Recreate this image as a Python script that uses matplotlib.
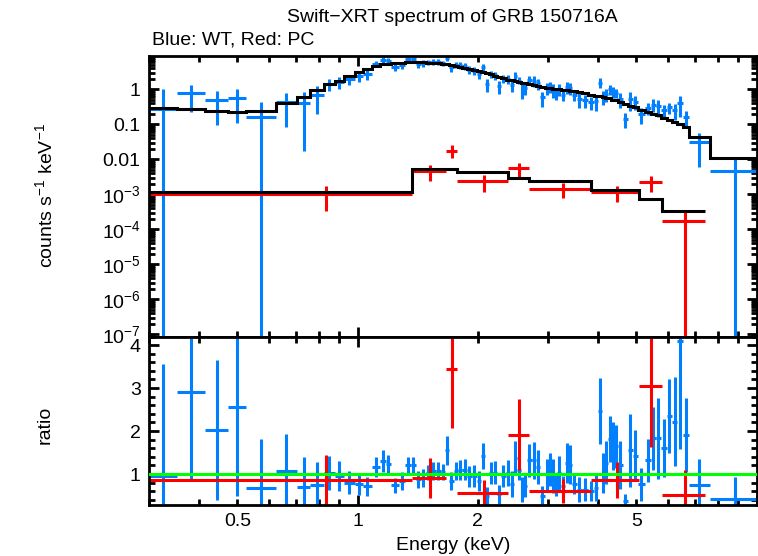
import numpy as np
import matplotlib.pyplot as plt
from matplotlib.ticker import LogLocator, MultipleLocator, NullFormatter

plt.rcParams['font.family'] = ['Liberation Sans', 'DejaVu Sans']
plt.rcParams['mathtext.fontset'] = 'custom'
plt.rcParams['mathtext.rm'] = 'Liberation Sans'
plt.rcParams['mathtext.it'] = 'Liberation Sans:italic'
plt.rcParams['mathtext.bf'] = 'Liberation Sans:bold'

# WT mode spectrum (blue): channel bin edges in keV, data/model ratio, its error, model counts
wt_edges = [0.30, 0.352, 0.414, 0.472, 0.524, 0.623, 0.703, 0.762, 0.822, 0.876,
            0.922, 0.983, 1.029, 1.084, 1.135, 1.175, 1.210, 1.267, 1.312, 1.358,
            1.398, 1.438, 1.481, 1.524, 1.569, 1.614, 1.652, 1.696, 1.740, 1.781,
            1.828, 1.881, 1.931, 1.987, 2.034, 2.087, 2.136, 2.186, 2.237, 2.289,
            2.349, 2.411, 2.460, 2.510, 2.562, 2.606, 2.660, 2.730, 2.801, 2.867,
            2.942, 3.011, 3.064, 3.112, 3.166, 3.227, 3.302, 3.379, 3.448, 3.539,
            3.643, 3.771, 3.904, 4.006, 4.088, 4.160, 4.240, 4.324, 4.407, 4.491,
            4.615, 4.750, 4.903, 5.032, 5.240, 5.424, 5.583, 5.747, 5.949, 6.141,
            6.321, 6.524, 6.766, 7.625, 10.0]
wt_ratio = [0.95, 2.9, 2.02, 2.56, 0.67, 1.07, 0.71, 0.74, 1.03, 0.95,
            0.8, 0.76, 0.72, 1.16, 1.3, 1.24, 0.74, 0.84, 1.2, 1.2,
            0.88, 0.91, 1.03, 1.07, 1.07, 1.05, 1.55, 0.84, 1.07, 1.1,
            1.1, 0.95, 0.95, 0.84, 1.42, 0.49, 1.03, 1.03, 0.53, 0.95,
            1.03, 0.76, 1.38, 1.1, 0.64, 0.72, 1.32, 1.32, 1.17, 0.49,
            0.99, 1.11, 0.95, 0.76, 1.03, 0.72, 1.26, 1.22, 0.76, 0.64,
            0.64, 0.6, 0.68, 2.47, 1.03, 1.26, 1.81, 1.65, 1.65, 1.22,
            0.37, 1.55, 1.43, 0.76, 1.32, 1.83, 1.83, 1.6, 2.35, 2.22,
            4.09, 1.91, 0.74, 0.43]
wt_ratio_err = [2.6, 2.05, 1.63, 2.06, 1.14, 0.86, 0.68, 0.53, 0.4, 0.35,
                0.27, 0.25, 0.22, 0.23, 0.26, 0.21, 0.17, 0.2, 0.2, 0.2,
                0.2, 0.2, 0.17, 0.2, 0.2, 0.18, 0.34, 0.2, 0.22, 0.23,
                0.24, 0.24, 0.25, 0.23, 0.31, 0.2, 0.25, 0.27, 0.22, 0.26,
                0.3, 0.3, 0.38, 0.25, 0.3, 0.26, 0.38, 0.43, 0.4, 0.23,
                0.37, 0.38, 0.4, 0.27, 0.39, 0.23, 0.46, 0.46, 0.23, 0.29,
                0.26, 0.23, 0.31, 0.77, 0.46, 0.5, 0.54, 0.56, 0.5, 0.56,
                0.17, 0.85, 0.6, 0.38, 0.5, 0.74, 0.94, 0.68, 0.86, 1.03,
                2.5, 0.87, 0.6, 0.5]
wt_model = [0.286, 0.268, 0.24, 0.224, 0.24, 0.398, 0.59, 0.955, 1.39, 1.73,
            2.45, 3.12, 3.8, 4.6, 5.3, 5.3, 5.75, 5.75, 6.15, 6.15,
            6.15, 6.1, 5.75, 5.75, 5.6, 5.4, 5.2, 5.0, 4.7, 4.4,
            4.1, 3.85, 3.55, 3.3, 3.1, 2.85, 2.65, 2.45, 2.3, 2.15,
            1.9, 1.8, 1.72, 1.62, 1.56, 1.5, 1.43, 1.35, 1.27, 1.2,
            1.12, 1.08, 1.05, 1.03, 1.0, 0.97, 0.93, 0.9, 0.88, 0.82,
            0.77, 0.71, 0.66, 0.63, 0.61, 0.58, 0.55, 0.51, 0.48, 0.44,
            0.39, 0.34, 0.31, 0.26, 0.22, 0.2, 0.18, 0.155, 0.13, 0.115,
            0.1, 0.085, 0.0426, 0.0107]

# PC mode spectrum (red)
pc_edges = [0.3, 1.37, 1.67, 1.77, 2.38, 2.69, 3.85, 5.07, 5.80, 7.41]
pc_ratio = [0.86, 0.91, 3.44, 0.565, 1.92, 0.6, 0.86, 3.06, 0.52]
pc_ratio_err = [0.58, 0.46, 1.37, 0.29, 0.82, 0.28, 0.42, 1.42, 0.58]
pc_model = [1.19e-3, 5.18e-3, 5.18e-3, 4.25e-3, 2.87e-3, 2.4e-3, 1.33e-3, 7.2e-4, 3.33e-4]

BLUE = '#0080ff'
RED = '#ff0000'
GREEN = '#00ff00'
LW = 2.2
FS = 14


def bin_centres(edges):
    e = np.asarray(edges)
    return (e[:-1] + e[1:]) / 2, (e[1:] - e[:-1]) / 2


W, H = 758, 556
fig = plt.figure(figsize=(W / 100, H / 100), dpi=100)
left, right = 149, 756.5
top, mid, bottom = 56, 336.5, 505
ax1 = fig.add_axes([left / W, 1 - mid / H, (right - left) / W, (mid - top) / H])
ax2 = fig.add_axes([left / W, 1 - bottom / H, (right - left) / W, (bottom - mid) / H])

for edges, ratio, rerr, model, col, z in [
        (wt_edges, wt_ratio, wt_ratio_err, wt_model, BLUE, 2),
        (pc_edges, pc_ratio, pc_ratio_err, pc_model, RED, 2.5)]:
    xc, xw = bin_centres(edges)
    ratio, rerr, model = np.array(ratio), np.array(rerr), np.array(model)
    ax1.errorbar(xc, ratio * model, yerr=rerr * model, xerr=xw, fmt='none',
                 ecolor=col, elinewidth=LW, capsize=0, zorder=z)
    ax1.stairs(model, edges, baseline=None, color='k', lw=LW, zorder=3)
    ax2.errorbar(xc, ratio, yerr=rerr, xerr=xw, fmt='none',
                 ecolor=col, elinewidth=LW, capsize=0, zorder=z)

ax2.axhline(1.0, color=GREEN, lw=LW, zorder=4)

minor_x = [0.3, 0.4, 0.5, 0.6, 0.7, 0.8, 0.9, 2, 3, 4, 5, 6, 7, 8, 9]
minor_lbl = ['', '', '0.5', '', '', '', '', '2', '', '', '5', '', '', '', '']
for ax in (ax1, ax2):
    ax.set_xscale('log')
    ax.set_xlim(0.3, 10)
    ax.set_xticks([1, 10], ['1', ''])
    ax.set_xticks(minor_x, minor_lbl, minor=True)
    ax.tick_params(which='both', direction='in', top=True, right=True,
                   width=2, labelsize=FS, pad=6)
    ax.tick_params(which='major', length=7.5)
    ax.tick_params(which='minor', length=4.5)
    for s in ax.spines.values():
        s.set_linewidth(2)

ax1.tick_params(which='both', labelbottom=False)

ax1.set_yscale('log')
ax1.set_ylim(8.65e-8, 8.94)
ax1.set_yticks([1, 0.1, 0.01, 1e-3, 1e-4, 1e-5, 1e-6, 1e-7],
               ['1', '0.1', '0.01', '$10^{-3}$', '$10^{-4}$', '$10^{-5}$',
                '$10^{-6}$', '$10^{-7}$'])
ax1.yaxis.set_minor_locator(LogLocator(base=10, subs=range(2, 10), numticks=20))
ax1.yaxis.set_minor_formatter(NullFormatter())

ax2.set_ylim(0.28, 4.2)
ax2.set_yticks([1, 2, 3, 4])
ax2.yaxis.set_minor_locator(MultipleLocator(0.2))

fig.text((left + right) / 2 / W, 1 - 18 / H, 'Swift\u2212XRT spectrum of GRB 150716A',
         ha='center', va='center', fontsize=FS)
fig.text(152 / W, 1 - 40 / H, 'Blue: WT, Red: PC', ha='left', va='center', fontsize=FS)
fig.text(45 / W, 1 - 196 / H, r'counts s$^{-1}$ keV$^{-1}$', rotation=90,
         ha='center', va='center', fontsize=FS)
fig.text(45 / W, 1 - 425 / H, 'ratio', rotation=90, ha='center', va='center', fontsize=FS)
fig.text((left + right) / 2 / W, 1 - 545 / H, 'Energy (keV)',
         ha='center', va='center', fontsize=FS)

fig.savefig('out.png', dpi=100)
